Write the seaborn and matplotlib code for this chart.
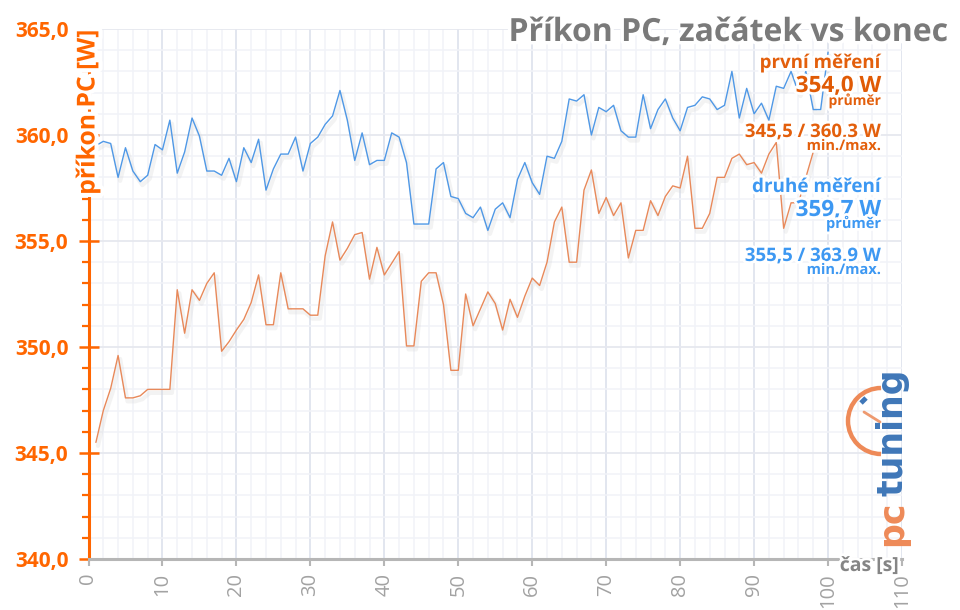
import matplotlib
matplotlib.use("Agg")
import matplotlib.pyplot as plt
import matplotlib.patheffects as pe
from matplotlib.patches import Arc
import pandas as pd
import seaborn as sns

# ---- data ----
blue_values = [359.5, 359.7, 359.6, 358.0, 359.4, 358.3, 357.8, 358.1, 359.55, 359.3,
               360.7, 358.2, 359.2, 360.8, 359.95, 358.3, 358.3, 358.1, 358.9, 357.8,
               359.4, 358.7, 359.8, 357.4, 358.4, 359.1, 359.1, 359.9, 358.3, 359.6,
               359.9, 360.5, 360.9, 362.1, 360.7, 358.8, 360.1, 358.6, 358.8, 358.8,
               360.1, 359.9, 358.7, 355.8, 355.8, 355.8, 358.4, 358.7, 357.1, 357.0,
               356.3, 356.1, 356.6, 355.5, 356.5, 356.8, 356.1, 357.9, 358.7, 357.75,
               357.2, 359.0, 358.9, 359.7, 361.7, 361.6, 361.9, 360.0, 361.3, 361.1,
               361.4, 360.2, 359.9, 359.9, 361.9, 360.3, 361.2, 361.7, 360.8, 360.2,
               361.3, 361.4, 361.8, 361.7, 361.2, 361.4, 363.0, 360.8, 362.2, 361.0,
               361.5, 360.7, 362.3, 362.2, 363.0, 362.0, 363.0, 361.2, 361.2, 363.9]
orange_values = [345.5, 347.0, 348.05, 349.6, 347.6, 347.6, 347.7, 348.0, 348.0, 348.0,
                 348.0, 352.7, 350.65, 352.7, 352.2, 353.0, 353.5, 349.8, 350.25, 350.8,
                 351.3, 352.1, 353.4, 351.05, 351.05, 353.5, 351.8, 351.8, 351.8, 351.5,
                 351.5, 354.3, 355.9, 354.1, 354.65, 355.3, 355.4, 353.2, 354.7, 353.4,
                 353.95, 354.5, 350.05, 350.05, 353.1, 353.5, 353.5, 352.0, 348.9, 348.9,
                 352.5, 351.0, 351.8, 352.6, 352.05, 350.8, 352.25, 351.4, 352.4, 353.25,
                 352.9, 354.0, 355.9, 356.6, 354.0, 354.0, 357.4, 358.35, 356.3, 357.05,
                 356.2, 356.8, 354.2, 355.5, 355.5, 356.9, 356.2, 357.1, 357.6, 357.5,
                 359.0, 355.6, 355.6, 356.3, 358.0, 358.0, 358.9, 359.1, 358.6, 358.7,
                 358.2, 359.1, 359.65, 355.6, 356.8, 356.8, 358.0, 359.2, 360.3]
y_ticks = [340, 345, 350, 355, 360, 365]
y_tick_labels = ["340,0", "345,0", "350,0", "355,0", "360,0", "365,0"]
x_ticks = [0, 10, 20, 30, 40, 50, 60, 70, 80, 90, 100, 110]
x_tick_labels = ["0", "10", "20", "30", "40", "50", "60", "70", "80", "90", "100", "110"]

# ---- styling ----
FONT = "Open Sans"
ORANGE_AXIS = "#ff6600"
ORANGE_LINE = "#e8895a"
BLUE_LINE = "#4f98e6"
ORANGE_TEXT = "#e35f0c"
BLUE_TEXT = "#3d98f2"
GREY = "#7a7a7a"

sns.set_theme(style="white", rc={"font.family": FONT})
fig = plt.figure(figsize=(9.6, 6.1), dpi=100, facecolor="white")
ax = fig.add_axes([88.5 / 960, 1 - 559 / 610, (902 - 88.5) / 960, (559 - 29) / 610])

blue_df = pd.DataFrame({"t": range(1, len(blue_values) + 1), "v": blue_values})
orange_df = pd.DataFrame({"t": range(1, len(orange_values) + 1), "v": orange_values})

shadow = [pe.SimpleLineShadow(offset=(1.5, -2.5), shadow_color="#d8d8d8", alpha=0.3, linewidth=3),
          pe.Normal()]
sns.lineplot(data=blue_df, x="t", y="v", ax=ax, color=BLUE_LINE, lw=1.0, errorbar=None,
             path_effects=shadow, zorder=3)
sns.lineplot(data=orange_df, x="t", y="v", ax=ax, color=ORANGE_LINE, lw=1.0, errorbar=None,
             path_effects=shadow, zorder=3)

ax.set_xlim(0, 110)
ax.set_ylim(340, 365)
ax.set_xlabel("")
ax.set_ylabel("")
ax.set_xticks(x_ticks)
ax.set_xticklabels(x_tick_labels, rotation=90, color="#a2a2a2", fontsize=14.5, fontfamily=FONT)
ax.set_yticks(y_ticks)
ax.set_yticklabels(y_tick_labels, color=ORANGE_AXIS, fontsize=15, fontweight="bold", fontfamily=FONT)
ax.set_xticks(range(0, 111, 2), minor=True)
ax.set_yticks(range(340, 366), minor=True)

ax.set_axisbelow(True)
ax.grid(True, which="major", axis="x", color="#dfe4ee", lw=1.3)
ax.grid(True, which="major", axis="y", color="#e6e8ef", lw=1.3)
ax.grid(True, which="minor", color="#f1f3f8", lw=1.1)

for s in ("top", "right"):
    ax.spines[s].set_visible(False)
ax.spines["left"].set_color(ORANGE_AXIS)
ax.spines["left"].set_linewidth(2.2)
ax.spines["bottom"].set_color("#b6b6b6")
ax.spines["bottom"].set_linewidth(2.2)
ax.spines["left"].set_zorder(2.5)
ax.spines["bottom"].set_zorder(2.5)

ax.tick_params(axis="y", which="major", direction="inout", length=15, width=1.8,
               color=ORANGE_AXIS, pad=7, left=True)
ax.tick_params(axis="y", which="minor", direction="out", length=5, width=1.6,
               color=ORANGE_AXIS, left=True)
ax.tick_params(axis="x", which="major", direction="out", length=5, width=1.5,
               color="#b6b6b6", pad=5, bottom=True)
ax.tick_params(axis="x", which="minor", length=0)


def halo(width=4):
    return [pe.withStroke(linewidth=width, foreground="white")]


def label(px, py, s, color, size, ha="right", weight="bold", rotation=0, va="baseline", w=4):
    return fig.text(px / 960, 1 - py / 610, s, color=color, fontsize=size, ha=ha, va=va,
                    fontweight=weight, rotation=rotation, fontfamily=FONT,
                    path_effects=halo(w), zorder=10)


label(949, 41, "Příkon PC, začátek vs konec", GREY, 23, w=5)
label(88, 112, "příkon PC [W]", ORANGE_AXIS, 17.8, ha="center", va="center", rotation=90, w=6)
label(899, 571, "čas [s]", "#858585", 14)

label(881, 68, "první měření", ORANGE_TEXT, 13.5)
label(881, 92, "354,0 W", "#e05a05", 16.2)
label(881, 105, "průměr", ORANGE_TEXT, 10)
label(881, 137, "345,5 / 360,3 W", ORANGE_TEXT, 13.4)
label(881, 150, "min./max.", ORANGE_TEXT, 10.5)
label(881, 192, "druhé měření", BLUE_TEXT, 13.6)
label(881, 216, "359,7 W", BLUE_TEXT, 16.2)
label(881, 228, "průměr", BLUE_TEXT, 10.5)
label(881, 261, "355,5 / 363,9 W", BLUE_TEXT, 13.4)
label(881, 274, "min./max.", BLUE_TEXT, 10.5)

# logo: gauge and rotated wordmark
logo = fig.add_axes([0, 0, 1, 1], facecolor="none", zorder=8)
logo.set_xlim(0, 960)
logo.set_ylim(610, 0)
logo.axis("off")
logo.add_patch(Arc((881, 421), 66, 66, theta1=90, theta2=270, color="#ee8a58", lw=3.2))
logo.plot([864, 880], [412, 422], color="#ee9a70", lw=2, solid_capstyle="round")
logo.plot([861, 866], [403, 398], color="#3f77b8", lw=3.5, solid_capstyle="butt")
fig.text(892 / 960, 1 - 546 / 610, "pc", color="#ee8a58", fontsize=25, fontweight="bold",
         rotation=90, ha="center", va="bottom", fontfamily="DejaVu Sans", zorder=9)
fig.text(892 / 960, 1 - 496 / 610, "tuning", color="#3f77b8", fontsize=25, fontweight="bold",
         rotation=90, ha="center", va="bottom", fontfamily="DejaVu Sans", zorder=9)

fig.savefig("out.png", dpi=100, facecolor="white")
